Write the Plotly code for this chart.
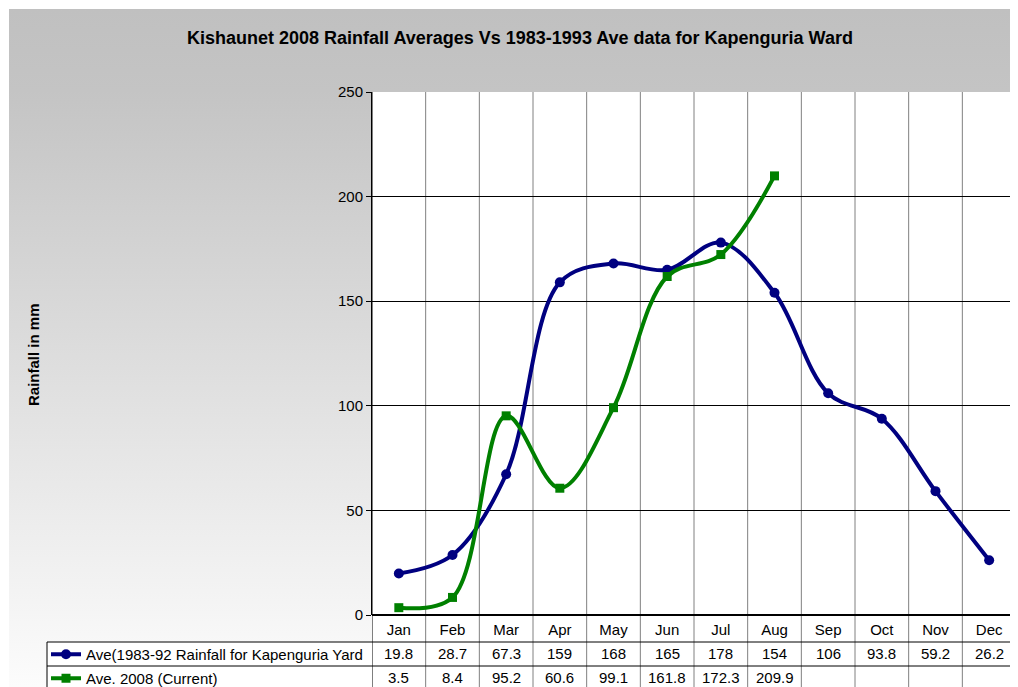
import base64
import plotly.graph_objects as go

# ---------------- data ----------------
months = ["Jan", "Feb", "Mar", "Apr", "May", "Jun", "Jul", "Aug", "Sep", "Oct", "Nov", "Dec"]
ave_1983_92 = [19.8, 28.7, 67.3, 159, 168, 165, 178, 154, 106, 93.8, 59.2, 26.2]
ave_2008 = [3.5, 8.4, 95.2, 60.6, 99.1, 161.8, 172.3, 209.9]
name_ave = "Ave(1983-92 Rainfall for Kapenguria Yard"
name_2008 = "Ave. 2008 (Current)"
title = "Kishaunet 2008 Rainfall Averages Vs 1983-1993 Ave data for Kapenguria Ward"
y_title = "Rainfall in mm"

# ---------------- layout geometry ----------------
# page is shown with an 8px body margin; work in page pixels and convert
OFF = 8
W, H = 1010, 700            # figure size (bottom part runs past the window, as in the reference)
PLOT_L, PLOT_R, PLOT_T, PLOT_B = 372, 1016, 92, 615   # page pixels
L = PLOT_L - OFF
R = W - (PLOT_R - OFF)
T = PLOT_T - OFF
B = H - (PLOT_B - OFF)
PW, PH = W - L - R, H - T - B
FONT = "Liberation Sans, Arial, sans-serif"
FS = 15


def px_x(p):  # page pixel x -> paper x
    return (p - PLOT_L) / PW


def px_y(p):  # page pixel y -> paper y
    return (PLOT_B - p) / PH


NAVY = "#000080"
GREEN = "#008000"

fig = go.Figure()
fig.add_trace(go.Scatter(
    x=months, y=ave_1983_92, name=name_ave, legendgroup="a",
    mode="lines+markers", line=dict(color=NAVY, width=4, shape="spline", smoothing=1.0),
    marker=dict(symbol="circle", size=10, color=NAVY),
))
fig.add_trace(go.Scatter(
    x=months[:len(ave_2008)], y=ave_2008, name=name_2008, legendgroup="b",
    mode="lines+markers", line=dict(color=GREEN, width=4, shape="spline", smoothing=1.0),
    marker=dict(symbol="square", size=9, color=GREEN),
))

# gradient background via svg image
svg = ('<svg xmlns="http://www.w3.org/2000/svg" width="100" height="100" preserveAspectRatio="none">'
       '<defs><linearGradient id="g" x1="0" y1="0" x2="0" y2="1">'
       '<stop offset="0" stop-color="#c0c0c0"/><stop offset="0.12" stop-color="#c4c4c4"/>'
       '<stop offset="1" stop-color="#fcfcfc"/></linearGradient></defs>'
       '<rect width="100" height="100" fill="url(#g)"/></svg>')
src = "data:image/svg+xml;base64," + base64.b64encode(svg.encode()).decode()
images = [dict(source=src, xref="paper", yref="paper", x=px_x(9), y=px_y(9),
               sizex=(1018 - 9) / PW, sizey=(687 - 9) / PH, xanchor="left", yanchor="top",
               sizing="stretch", layer="below")]

BOTTOM = 720  # page px, beyond window
shapes = []
shapes.append(dict(type="rect", xref="paper", yref="paper", x0=0, x1=1, y0=0, y1=1,
                   fillcolor="white", line=dict(width=0), layer="below"))
shapes.append(dict(type="rect", xref="paper", yref="paper", x0=px_x(47), x1=1, y0=px_y(BOTTOM), y1=px_y(642),
                   fillcolor="white", line=dict(width=0), layer="below"))
shapes.append(dict(type="rect", xref="paper", yref="paper", x0=0, x1=1, y0=px_y(642), y1=0,
                   fillcolor="white", line=dict(width=0), layer="below"))
n = len(months)
for i in range(n + 1):
    col = "black" if i == 0 else "#808080"
    shapes.append(dict(type="line", xref="x", yref="paper", x0=i - 0.5, x1=i - 0.5,
                       y0=px_y(BOTTOM), y1=1, line=dict(color=col, width=1), layer="below"))
for yy in (642, 666):
    shapes.append(dict(type="line", xref="paper", yref="paper", x0=px_x(47), x1=1,
                       y0=px_y(yy), y1=px_y(yy), line=dict(color="black", width=1), layer="below"))
shapes.append(dict(type="line", xref="paper", yref="paper", x0=px_x(47), x1=px_x(47),
                   y0=px_y(642), y1=px_y(BOTTOM), line=dict(color="black", width=1), layer="below"))

annotations = [
    dict(text=f"<b>{title}</b>", xref="paper", yref="paper", x=px_x(520), y=px_y(38),
         xanchor="center", yanchor="middle", showarrow=False, font=dict(size=18, family=FONT, color="black")),
    dict(text=f"<b>{y_title}</b>", xref="paper", yref="paper", x=px_x(33), y=px_y(355),
         xanchor="center", yanchor="middle", textangle=-90, showarrow=False,
         font=dict(size=FS, family=FONT, color="black")),
]
for m, v in zip(months, ave_1983_92):
    annotations.append(dict(text=f"{v:g}", x=m, xref="x", yref="paper", y=px_y(653), yanchor="middle",
                            showarrow=False, font=dict(size=FS, family=FONT, color="black")))
for m, v in zip(months, ave_2008):
    annotations.append(dict(text=f"{v:g}", x=m, xref="x", yref="paper", y=px_y(677), yanchor="middle",
                            showarrow=False, font=dict(size=FS, family=FONT, color="black")))

fig.update_layout(
    width=W, height=H,
    margin=dict(l=L, r=R, t=T, b=B),
    paper_bgcolor="white", plot_bgcolor="white",
    font=dict(family=FONT, size=FS, color="black"),
    images=images, shapes=shapes, annotations=annotations,
    showlegend=True,
    legend=dict(x=px_x(46), y=px_y(638), xanchor="left", yanchor="top", bgcolor="rgba(0,0,0,0)",
                borderwidth=0, tracegroupgap=1.5, font=dict(size=FS, family=FONT, color="black"),
                traceorder="grouped"),
    xaxis=dict(type="category", categoryorder="array", categoryarray=months, range=[-0.5, n - 0.5],
               showgrid=False, zeroline=False, showline=False, ticks="", ticklabelstandoff=4,
               tickfont=dict(size=FS, family=FONT, color="black"), fixedrange=True),
    yaxis=dict(range=[0, 250], dtick=50, showgrid=True, gridcolor="black", gridwidth=1,
               zeroline=True, zerolinecolor="black", zerolinewidth=1.5,
               showline=True, linecolor="black", linewidth=1, ticks="outside", ticklen=5,
               tickcolor="black", tickfont=dict(size=FS, family=FONT, color="black"), fixedrange=True),
)

fig.write_html("out.html")
